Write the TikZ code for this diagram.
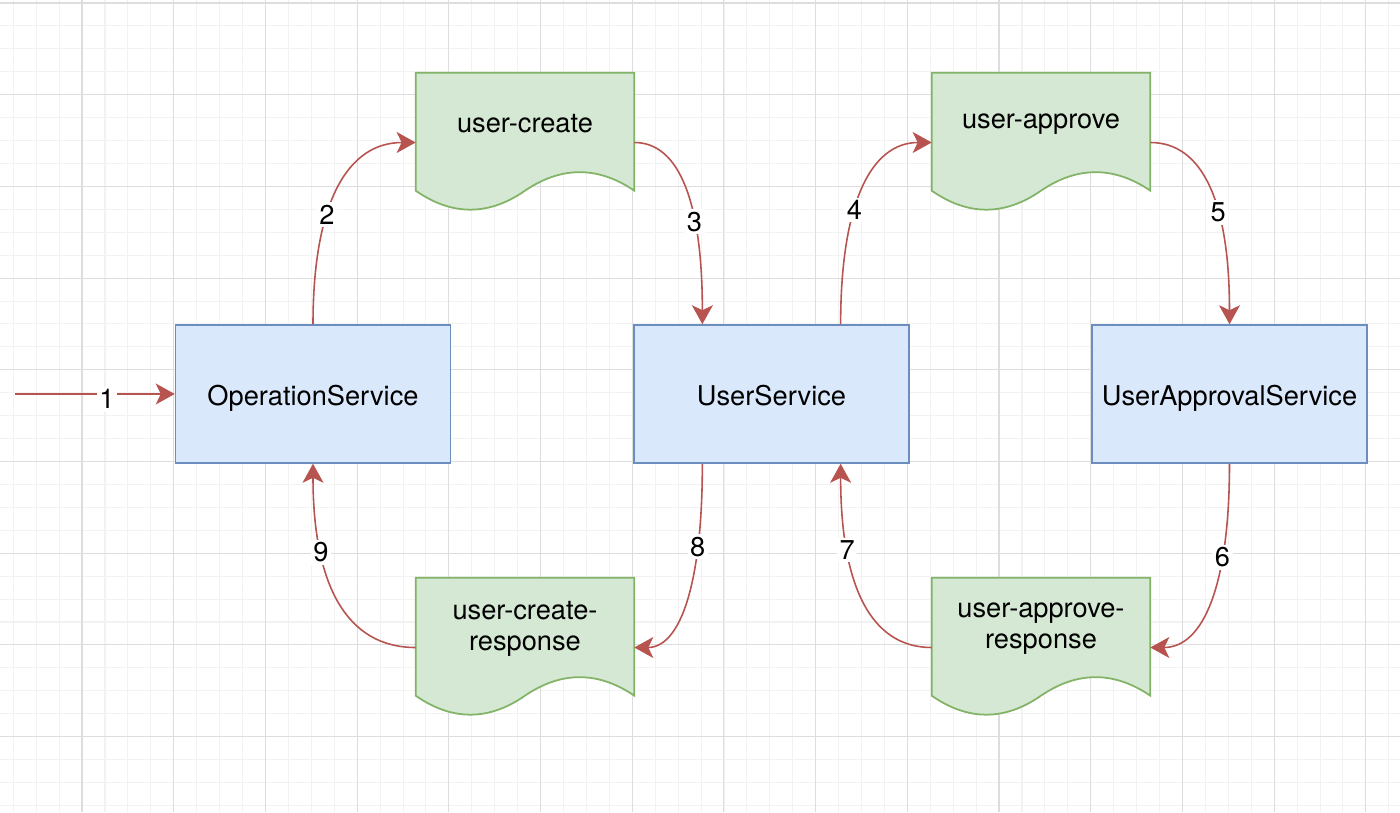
\documentclass[tikz,border=0pt]{standalone}
\usepackage{fontspec}
\setmainfont{TeX Gyre Heros}
\usetikzlibrary{arrows.meta,calc,backgrounds}
\definecolor{svcfill}{HTML}{DAE8FC}
\definecolor{svcline}{HTML}{6C8EBF}
\definecolor{topicfill}{HTML}{D5E8D4}
\definecolor{topicline}{HTML}{82B366}
\definecolor{flowred}{HTML}{B85450}
\definecolor{gridmajor}{HTML}{DDDDDD}
\definecolor{gridminor}{HTML}{F2F2F2}

\begin{document}
\begin{tikzpicture}[x=0.02cm,y=-0.02cm,>={Stealth[length=0.38cm,width=0.42cm,inset=0.1cm]}]
  \tikzstyle{service}=[rectangle,draw=svcline,fill=svcfill,line width=0.9pt,
  			minimum width=5.5cm,minimum height=2.76cm,inner sep=0pt,
  			text height=0.44cm,text depth=0pt,
  			font=\fontsize{15.5pt}{17.6pt}\selectfont]
  \tikzstyle{topic}=[rectangle,minimum width=4.36cm,minimum height=2.78cm,inner sep=0pt]
  \tikzstyle{topic text}=[anchor=center,yshift=-1.02cm,align=center,inner sep=0pt,
  			   font=\fontsize{15.5pt}{17.6pt}\selectfont]
  \tikzstyle{flow}=[->,draw=flowred,line width=0.9pt]
  \tikzstyle{step no}=[fill=white,inner sep=1.5pt,font=\fontsize{15.5pt}{17.6pt}\selectfont]
  \useasboundingbox (0,0) rectangle (1400,812);
  % grid paper
  \begin{pgfonlayer}{background}
    \fill[white] (0,0) rectangle (1400,812);
    \foreach \i in {0,...,60}
      \draw[gridminor,line width=0.6pt] ({13.3+22.925*\i},0) -- ({13.3+22.925*\i},812);
    \foreach \j in {0,...,35}
      \draw[gridminor,line width=0.6pt] (0,{3+22.925*\j}) -- (1400,{3+22.925*\j});
    \foreach \i in {0,...,14}
      \draw[gridmajor,line width=0.6pt] ({82+91.7*\i},0) -- ({82+91.7*\i},812);
    \foreach \j in {0,...,8}
      \draw[gridmajor,line width=0.6pt] (0,{3+91.7*\j}) -- (1400,{3+91.7*\j});
  \end{pgfonlayer}
  % services
  \node [service] (os) at (313,394) {OperationService};
  \node [service] (us) at (771.5,394) {UserService};
  \node [service] (uas) at (1229.5,394) {UserApprovalService};
  % topics
  \node [topic,label={[topic text]north:user-create}] (uc) at (525,142.5) {};
  \node [topic,label={[topic text]north:user-approve}] (ua) at (1041,142.5) {};
  \node [topic,label={[topic text]north:{user-create-\\response}}] (ucr) at (525,647.5) {};
  \node [topic,label={[topic text]north:{user-approve-\\response}}] (uar) at (1041,647.5) {};
  \begin{pgfonlayer}{background}
    \foreach \t in {uc,ua,ucr,uar}
      \draw[topicline,fill=topicfill,line width=1pt] (\t.north west) -- (\t.north east)
        -- ($(\t.north east)+(0,118)$)
        .. controls ($(\t.north east)+(-36.33,93.33)$) and ($(\t.north)+(36.33,93.33)$)
        .. ($(\t.north)+(0,118)$)
        .. controls ($(\t.north)+(-36.33,143.33)$) and ($(\t.north west)+(36.33,143.33)$)
        .. ($(\t.north west)+(0,118)$) -- cycle;
  \end{pgfonlayer}
  \coordinate (us-in) at ($(us.north west)!0.25!(us.north east)$);
  \coordinate (us-out) at ($(us.north west)!0.75!(us.north east)$);
  \coordinate (us-down) at ($(us.south west)!0.25!(us.south east)$);
  \coordinate (us-back) at ($(us.south west)!0.75!(us.south east)$);
  \coordinate (src) at (15,394);
  % message flow
  \draw[flow] (src) -- (os.west) node[step no,pos=0.575,yshift=-3pt] {1};
  \draw[flow] (os.north) .. controls ($(os.north)!2/3!(os.north |- uc.west)$)
    and ($(uc.west)!2/3!(os.north |- uc.west)$) .. (uc.west) node[step no,pos=0.37] {2};
  \draw[flow] (uc.east) .. controls ($(uc.east)!2/3!(uc.east -| us-in)$)
    and ($(us-in)!2/3!(uc.east -| us-in)$) .. (us-in) node[step no,pos=0.66] {3};
  \draw[flow] (us-out) .. controls ($(us-out)!2/3!(us-out |- ua.west)$)
    and ($(ua.west)!2/3!(us-out |- ua.west)$) .. (ua.west) node[step no,pos=0.39] {4};
  \draw[flow] (ua.east) .. controls ($(ua.east)!2/3!(ua.east -| uas.north)$)
    and ($(uas.north)!2/3!(ua.east -| uas.north)$) .. (uas.north) node[step no,pos=0.62] {5};
  \draw[flow] (uas.south) .. controls ($(uas.south)!2/3!(uas.south |- uar.east)$)
    and ($(uar.east)!2/3!(uas.south |- uar.east)$) .. (uar.east) node[step no,pos=0.3] {6};
  \draw[flow] (uar.west) .. controls ($(uar.west)!2/3!(uar.west -| us-back)$)
    and ($(us-back)!2/3!(uar.west -| us-back)$) .. (us-back) node[step no,pos=0.73] {7};
  \draw[flow] (us-down) .. controls ($(us-down)!2/3!(us-down |- ucr.east)$)
    and ($(ucr.east)!2/3!(us-down |- ucr.east)$) .. (ucr.east) node[step no,pos=0.26] {8};
  \draw[flow] (ucr.west) .. controls ($(ucr.west)!2/3!(ucr.west -| os.south)$)
    and ($(os.south)!2/3!(ucr.west -| os.south)$) .. (os.south) node[step no,pos=0.72] {9};
\end{tikzpicture}
\end{document}
